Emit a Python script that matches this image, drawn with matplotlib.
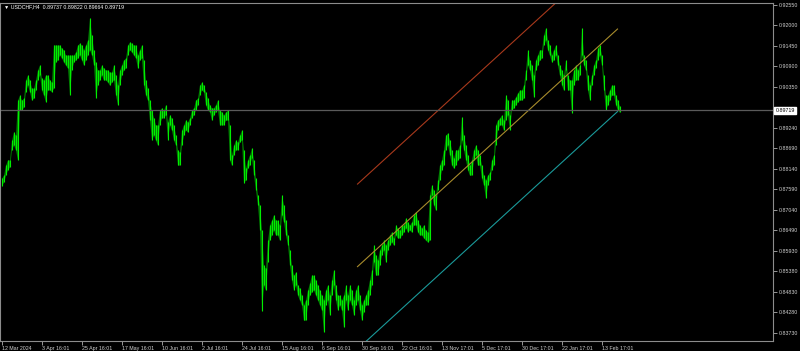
import numpy as np
import matplotlib.pyplot as plt

plt.rcParams['font.family'] = ['Liberation Sans', 'DejaVu Sans']

symbol = "USDCHF,H4"
last_ohlc = [0.89737, 0.89822, 0.89664, 0.89719]

# bar highs / lows, one sample per ~2 screen columns
high = [
    .8789, .8797, .8824, .8838, .8838, .8891, .8913, .8905, .8999, .9012,
    .8999, .9004, .9053, .9066, .9053, .9031, .9031, .9053, .9080, .9093,
    .9058, .9053, .9066, .9066, .9053, .9047, .9147, .9147, .9147, .9147,
    .9139, .9134, .9120, .9120, .9120, .9120, .9120, .9128, .9147, .9152,
    .9147, .9134, .9147, .9160, .9220, .9174, .9134, .9101, .9080, .9080,
    .9093, .9085, .9080, .9080, .9074, .9074, .9093, .9066, .9039, .9080,
    .9093, .9107, .9112, .9147, .9155, .9152, .9147, .9147, .9120, .9134,
    .9147, .9107, .9053, .9031, .8999, .8972, .8951,
    # 15 Apr .. 6 Sep
    .8932, .8932, .8972, .8978, .8972, .8986, .8940, .8959, .8951, .8932,
    .8905, .8865, .8859, .8918, .8932, .8945, .8940, .8951, .8972, .8978,
    .8999, .9004, .9039, .9047, .9039, .9021, .9004, .8986, .8978, .8978,
    .8986, .8999, .8972, .8967, .8959, .8967, .8972, .8932, .8851, .8878,
    .8891, .8886, .8905, .8918, .8865, .8816, .8838, .8851, .8870, .8838,
    .8789, .8744, .8717, .8649, .8555, .8547, .8622, .8663, .8676, .8690,
    .8676, .8676, .8663, .8744, .8717, .8676, .8636, .8596, .8555, .8528,
    .8536, .8501, .8493, .8474, .8448, .8461, .8488, .8507,
    # 6 Sep .. 13 Nov
    .8528, .8528, .8515, .8501, .8488, .8474, .8461, .8488, .8501, .8474,
    .8515, .8542, .8501, .8474, .8474, .8461, .8474, .8501, .8474, .8501,
    .8488, .8461, .8488, .8501, .8474, .8448, .8461, .8474, .8488, .8515,
    .8542, .8609, .8582, .8569, .8596, .8609, .8622, .8609, .8622, .8636,
    .8644, .8628, .8663, .8655, .8649, .8663, .8663, .8682, .8671, .8663,
    .8671, .8690, .8698, .8676, .8663, .8655, .8663, .8649, .8644, .8744,
    .8770, .8757, .8744, .8784, .8824, .8838, .8865, .8905, .8910, .8891,
    .8865, .8843, .8865, .8865, .8878, .8953, .8905, .8878,
    # 13 Nov .. end
    .8851, .8824, .8838, .8865, .8878, .8865, .8851, .8824, .8797, .8784,
    .8797, .8805, .8838, .8851, .8932, .8945, .8951, .8959, .8945, .9012,
    .8999, .8959, .8999, .8999, .9007, .9018, .9026, .9026, .9039, .9080,
    .9134, .9107, .9093, .9066, .9107, .9120, .9134, .9134, .9174, .9193,
    .9160, .9147, .9120, .9134, .9147, .9120, .9093, .9080, .9066, .9107,
    .9066, .9053, .9053, .9080, .9093, .9080, .9093, .9193, .9120, .9107,
    .9066, .9039, .9066, .9093, .9107, .9139, .9147, .9120, .9066, .9012,
    .9012, .9026, .9039, .9039, .9012, .8999, .8982,
]
low = [
    .8768, .8778, .8797, .8811, .8819, .8865, .8878, .8865, .8838, .8972,
    .8972, .8980, .9021, .9039, .9021, .8999, .9004, .9026, .9053, .9066,
    .9026, .9012, .8994, .9026, .9026, .9021, .9031, .9101, .9107, .9120,
    .9112, .9101, .9093, .9085, .9012, .9080, .9101, .9107, .9112, .9120,
    .9107, .9093, .9107, .9120, .9134, .9120, .9093, .9004, .9039, .9053,
    .9066, .9053, .9053, .9047, .9039, .9047, .9053, .9012, .8986, .9039,
    .9066, .9080, .9085, .9120, .9134, .9128, .9120, .9112, .9085, .9107,
    .9112, .9039, .9012, .8999, .8945, .8891, .8905,
    # 15 Apr .. 6 Sep
    .8891, .8878, .8932, .8951, .8951, .8959, .8891, .8932, .8918, .8891,
    .8878, .8824, .8824, .8878, .8905, .8918, .8913, .8932, .8951, .8959,
    .8972, .8986, .9012, .9026, .9021, .8986, .8972, .8967, .8945, .8959,
    .8967, .8972, .8932, .8932, .8932, .8945, .8945, .8838, .8824, .8851,
    .8865, .8865, .8886, .8891, .8776, .8784, .8816, .8824, .8843, .8797,
    .8757, .8717, .8649, .8431, .8501, .8488, .8563, .8622, .8636, .8649,
    .8636, .8636, .8622, .8690, .8671, .8636, .8609, .8555, .8515, .8488,
    .8501, .8474, .8461, .8448, .8407, .8407, .8448, .8474,
    # 6 Sep .. 13 Nov
    .8483, .8488, .8474, .8461, .8448, .8434, .8375, .8448, .8461, .8421,
    .8474, .8501, .8461, .8434, .8448, .8434, .8388, .8461, .8434, .8461,
    .8448, .8421, .8448, .8461, .8434, .8407, .8429, .8448, .8448, .8474,
    .8501, .8563, .8528, .8528, .8555, .8582, .8596, .8563, .8596, .8609,
    .8617, .8609, .8636, .8628, .8628, .8636, .8644, .8655, .8644, .8649,
    .8644, .8663, .8663, .8644, .8636, .8636, .8628, .8622, .8617, .8622,
    .8744, .8717, .8703, .8757, .8784, .8811, .8824, .8865, .8878, .8851,
    .8824, .8816, .8824, .8838, .8843, .8891, .8865, .8838,
    # 13 Nov .. end
    .8811, .8797, .8797, .8838, .8851, .8824, .8824, .8789, .8770, .8735,
    .8770, .8784, .8811, .8824, .8878, .8918, .8932, .8932, .8918, .8945,
    .8959, .8918, .8972, .8978, .8986, .8994, .8999, .8999, .9004, .9053,
    .9093, .9080, .9053, .9007, .9080, .9093, .9107, .9112, .9147, .9160,
    .9134, .9120, .9101, .9107, .9120, .9093, .9066, .9039, .9026, .9080,
    .9026, .9026, .8964, .9039, .9053, .9053, .9066, .9120, .9093, .9080,
    .9026, .8999, .9039, .9066, .9085, .9107, .9120, .9093, .9026, .8972,
    .8986, .8999, .9012, .9012, .8986, .8972, .8966,
]

time_labels = ["12 Mar 2024", "3 Apr 16:01", "25 Apr 16:01", "17 May 16:01",
               "10 Jun 16:01", "2 Jul 16:01", "24 Jul 16:01", "15 Aug 16:01",
               "6 Sep 16:01", "30 Sep 16:01", "22 Oct 16:01", "13 Nov 17:01",
               "5 Dec 17:01", "30 Dec 17:01", "22 Jan 17:01", "13 Feb 17:01"]
time_ticks = [20 * k for k in range(len(time_labels))]

price_ticks = [0.92550, 0.92000, 0.91450, 0.90900, 0.90350, 0.89800,
               0.89240, 0.88690, 0.88140, 0.87590, 0.87040, 0.86490,
               0.85930, 0.85380, 0.84830, 0.84280, 0.83730]

# regression channel
chan_x = [178, 308]
chan_mid = [0.8551, 0.9190]
chan_half = 0.0222

fig = plt.figure(figsize=(8, 3.51), dpi=100, facecolor='black')
ax = fig.add_axes([0.0, 10 / 351, 773 / 800, 338 / 351])
ax.set_facecolor('black')

x = np.arange(len(high))
ax.fill_between(x, low, high, color='#007a00', lw=0)
ax.vlines(x, low, high, color='#00ee00', lw=0.8)

ax.plot(chan_x, [m + chan_half for m in chan_mid], color='#a8391c', lw=0.8)
ax.plot(chan_x, chan_mid, color='#a88c2c', lw=0.8)
ax.plot(chan_x, [m - chan_half for m in chan_mid], color='#1a9a9a', lw=0.8)

ax.axhline(last_ohlc[3], color='#5a5a5a', lw=0.9)

ax.set_xlim(-0.75, 385.75)
ax.set_ylim(0.8351, 0.9260)

# the 0.89800 label sits under the live price box, like in the terminal
ax.yaxis.tick_right()
ax.set_yticks(price_ticks)
ax.set_yticklabels(["" if abs(p - 0.898) < 1e-6 else f"{p:.5f}" for p in price_ticks])
ax.tick_params(axis='y', colors='#b0b0b0', labelcolor='#d0d0d0',
               labelsize=3.8, length=3, width=0.6, pad=1)

ax.set_xticks(time_ticks)
ax.set_xticklabels(time_labels)
for lab in ax.get_xticklabels():
    lab.set_horizontalalignment('left')
ax.tick_params(axis='x', colors='#b0b0b0', labelcolor='#d0d0d0',
               labelsize=3.8, length=3, width=0.6, pad=0.5)

for s in ax.spines.values():
    s.set_color('#8c8c8c')
    s.set_linewidth(0.8)

ax.text(1.003, last_ohlc[3], f"{last_ohlc[3]:.5f}", transform=ax.get_yaxis_transform(),
        ha='left', va='center', fontsize=3.8, color='black', clip_on=False,
        bbox=dict(facecolor='white', edgecolor='white', pad=0.8))

header = "\u25bc " + symbol + "  " + " ".join(f"{v:.5f}" for v in last_ohlc)
fig.text(4 / 800, 1 - 7 / 351, header, color='white', fontsize=3.8, va='center',
         family=['Liberation Sans', 'DejaVu Sans'])

fig.savefig('out.png', dpi=100, facecolor='black')
